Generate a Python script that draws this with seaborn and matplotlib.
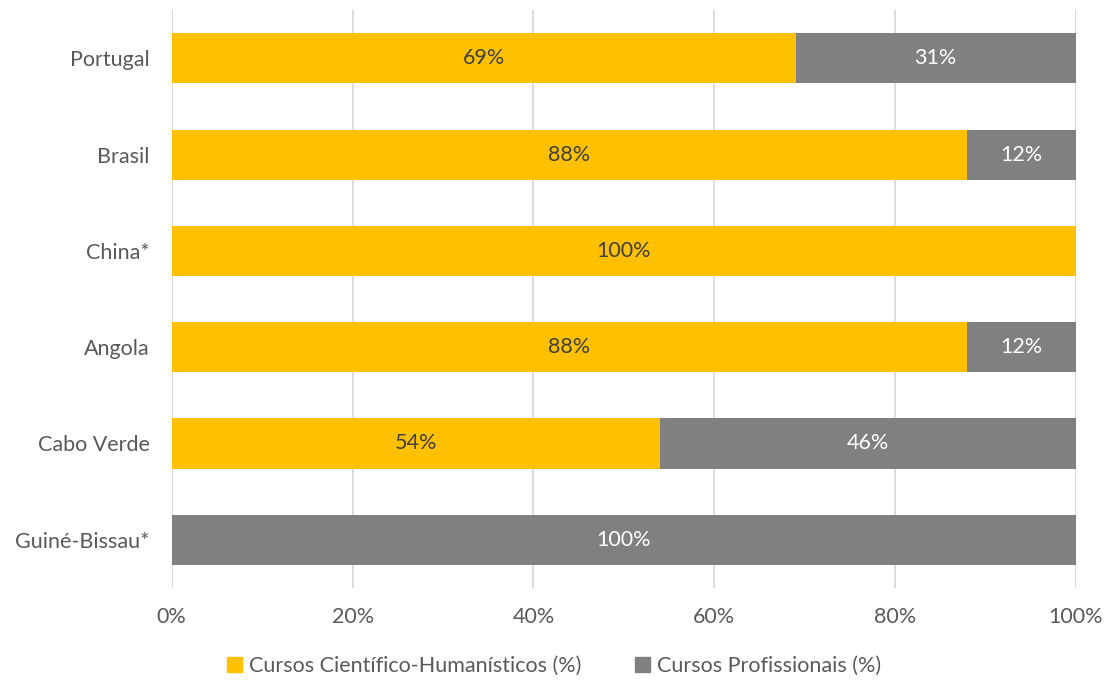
import pandas as pd
import matplotlib.pyplot as plt
import seaborn as sns
from matplotlib.patches import Patch

# dados
paises = ['Portugal', 'Brasil', 'China*', 'Angola', 'Cabo Verde', 'Guiné-Bissau*']
cientifico = [69, 88, 100, 88, 54, 0]
profissional = [31, 12, 0, 12, 46, 100]

Dados = pd.DataFrame({'Pais': paises, 'Cientifico': cientifico, 'Profissional': profissional})
Dados['Total'] = Dados['Cientifico'] + Dados['Profissional']

sns.set_style('white')
plt.rcParams['font.family'] = ['Lato', 'DejaVu Sans']

amarelo = '#FFC000'
cinza = '#808080'
fs = 15.5

fig = plt.figure(figsize=(11.08, 6.82), dpi=100)
ax = fig.add_axes([0.155, 0.138, 0.816, 0.847])

ax.set_axisbelow(True)
ax.xaxis.grid(True, color='#d9d9d9', linewidth=1.3)

# barra total em cinza e parte científica em amarelo por cima
sns.barplot(data=Dados, x='Total', y='Pais', color=cinza, width=0.52, saturation=1,
            linewidth=0, ax=ax, orient='h')
sns.barplot(data=Dados, x='Cientifico', y='Pais', color=amarelo, width=0.52, saturation=1,
            linewidth=0, ax=ax, orient='h')

for i, row in Dados.iterrows():
    if row['Cientifico'] > 0:
        ax.text(row['Cientifico'] / 2, i, f"{row['Cientifico']}%", ha='center', va='center',
                fontsize=fs, color='#404040')
    if row['Profissional'] > 0:
        ax.text(row['Cientifico'] + row['Profissional'] / 2, i, f"{row['Profissional']}%",
                ha='center', va='center', fontsize=fs, color='white')

ax.set_xlim(0, 100)
ax.set_ylim(5.5, -0.5)
ax.set_xticks([0, 20, 40, 60, 80, 100])
ax.set_xticklabels(['0%', '20%', '40%', '60%', '80%', '100%'])
ax.tick_params(axis='both', length=0, labelsize=fs, colors='#595959')
ax.tick_params(axis='x', pad=14)
ax.tick_params(axis='y', pad=16)
ax.set_xlabel('')
ax.set_ylabel('')
sns.despine(ax=ax, left=True, bottom=True)

handles = [Patch(color=amarelo, label='Cursos Científico-Humanísticos (%)'),
           Patch(color=cinza, label='Cursos Profissionais (%)')]
leg = fig.legend(handles=handles, loc='lower center', bbox_to_anchor=(0.5, -0.02), ncol=2,
                 frameon=False, fontsize=fs, handlelength=0.7, handleheight=0.7,
                 handletextpad=0.3, columnspacing=2.5)
for t in leg.get_texts():
    t.set_color('#595959')

fig.savefig('out.png', dpi=100)
